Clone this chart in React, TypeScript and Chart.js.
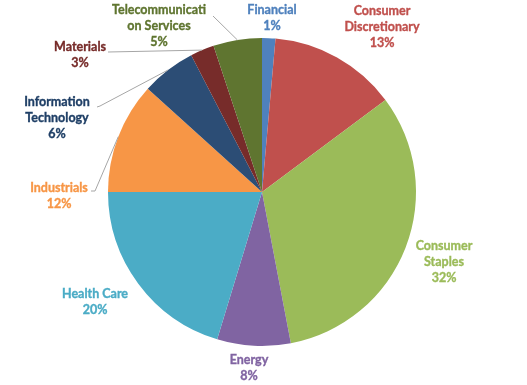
import React, { useEffect, useRef } from "react";
import { Chart, registerables } from "chart.js";

Chart.register(...registerables);

const categories = [
  "Financial",
  "Consumer Discretionary",
  "Consumer Staples",
  "Energy",
  "Health Care",
  "Industrials",
  "Information Technology",
  "Materials",
  "Telecommunication Services",
];
const values = [1.4, 13.4, 32.2, 7.7, 20.3, 11.7, 5.7, 2.5, 5.1];
const labelLines = [
  ["Financial"],
  ["Consumer", "Discretionary"],
  ["Consumer", "Staples"],
  ["Energy"],
  ["Health Care"],
  ["Industrials"],
  ["Information", "Technology"],
  ["Materials"],
  ["Telecommunicati", "on Services"],
];
const colors = ["#4F81BD", "#C0504D", "#9BBB59", "#8064A2", "#4BACC6", "#F79646", "#2C4D75", "#772C2A", "#5F7530"];
const textColors = ["#4F81BD", "#C0504D", "#9BBB59", "#8064A2", "#4BACC6", "#F79646", "#1F3F66", "#772C2A", "#5F7530"];

// label layout: offset of first text line centre from pie centre, and optional leader start (relative to centre)
const labelLayout: { dx: number; dy: number; leader?: number[][] }[] = [
  { dx: 10, dy: -182 },
  { dx: 120, dy: -181 },
  { dx: 182, dy: 54 },
  { dx: -13, dy: 168 },
  { dx: -167, dy: 102 },
  { dx: -203, dy: -4, leader: [[-171, -1], [-167, -1]] },
  { dx: -205, dy: -90, leader: [[-165, -85], [-162, -86]] },
  { dx: -182, dy: -145, leader: [[-154, -140]] },
  { dx: -103, dy: -182, leader: [[-49, -176]] },
];

const FONT = "bold 12.5px Lato, 'Open Sans', sans-serif";
const LINE_H = 16;

const labelPlugin = {
  id: "pieLabels",
  afterDraw(chart: any) {
    const ctx = chart.ctx;
    const meta = chart.getDatasetMeta(0);
    const total = values.reduce((a, b) => a + b, 0);
    ctx.save();
    meta.data.forEach((arc: any, i: number) => {
      const { x: cx, y: cy, outerRadius, startAngle, endAngle } = arc.getProps(
        ["x", "y", "outerRadius", "startAngle", "endAngle"],
        true
      );
      const lay = labelLayout[i];
      if (lay.leader) {
        const mid = (startAngle + endAngle) / 2;
        ctx.strokeStyle = "#A6A6A6";
        ctx.lineWidth = 1;
        ctx.beginPath();
        lay.leader.forEach((p, k) => {
          if (k === 0) ctx.moveTo(cx + p[0], cy + p[1]);
          else ctx.lineTo(cx + p[0], cy + p[1]);
        });
        ctx.lineTo(cx + Math.cos(mid) * outerRadius, cy + Math.sin(mid) * outerRadius);
        ctx.stroke();
      }
      const pct = Math.round((values[i] / total) * 100) + "%";
      const lines = [...labelLines[i], pct];
      ctx.font = FONT;
      ctx.fillStyle = textColors[i];
      ctx.strokeStyle = textColors[i];
      ctx.lineWidth = 0.35;
      ctx.textAlign = "center";
      ctx.textBaseline = "middle";
      lines.forEach((t, k) => {
        ctx.fillText(t, cx + lay.dx, cy + lay.dy + k * LINE_H);
        ctx.strokeText(t, cx + lay.dx, cy + lay.dy + k * LINE_H);
      });
    });
    ctx.restore();
  },
};

export default function App() {
  const ref = useRef<HTMLCanvasElement>(null);
  useEffect(() => {
    document.body.style.margin = "0";
    const chart = new Chart(ref.current!, {
      type: "pie",
      data: {
        labels: categories,
        datasets: [
          {
            data: values,
            backgroundColor: colors,
            borderWidth: 0,
          },
        ],
      },
      options: {
        responsive: false,
        animation: false,
        layout: { padding: { top: 38, bottom: 39, left: 108, right: 111 } },
        plugins: {
          legend: { display: false },
          tooltip: { enabled: false },
        },
      },
      plugins: [labelPlugin],
    });
    return () => chart.destroy();
  }, []);
  return (
    <div style={{ width: 527, height: 385, background: "#fff" }}>
      <canvas ref={ref} width={527} height={385} style={{ display: "block" }} />
    </div>
  );
}
